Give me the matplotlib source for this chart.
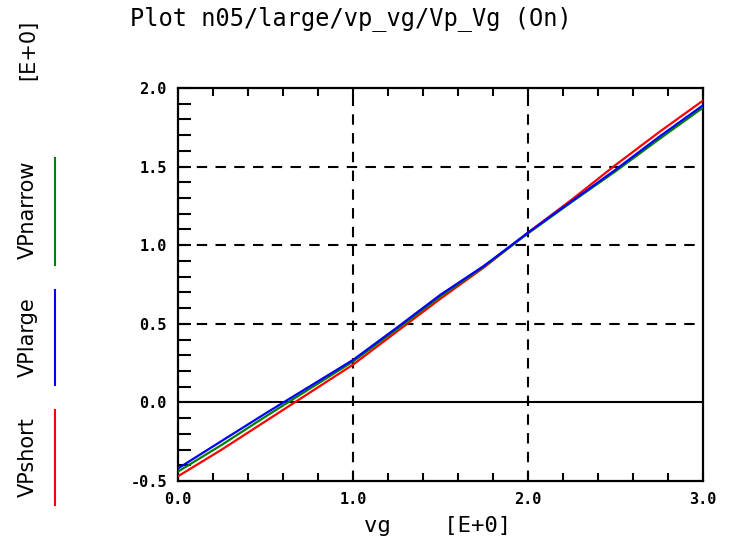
import matplotlib
matplotlib.use("Agg")
import matplotlib.pyplot as plt
from matplotlib.lines import Line2D
from matplotlib.ticker import MultipleLocator

# ---- data ----
vg = [0.0, 0.25, 0.5, 0.75, 1.0, 1.25, 1.5, 1.75, 2.0, 2.25, 2.5, 2.75, 3.0]
vp_short = [-0.47, -0.30, -0.12, 0.06, 0.24, 0.45, 0.66, 0.86, 1.08, 1.29, 1.51, 1.72, 1.92]
vp_narrow = [-0.44, -0.27, -0.09, 0.085, 0.26, 0.465, 0.675, 0.865, 1.075, 1.275, 1.47, 1.675, 1.875]
vp_large = [-0.42, -0.245, -0.07, 0.10, 0.27, 0.475, 0.685, 0.87, 1.08, 1.28, 1.48, 1.69, 1.89]

series_names = ["VPshort", "VPlarge", "VPnarrow"]
series_colors = ["#ff0000", "#0000ff", "#008000"]

x_ticks = [0.0, 1.0, 2.0, 3.0]
x_tick_labels = ["0.0", "1.0", "2.0", "3.0"]
y_ticks = [-0.5, 0.0, 0.5, 1.0, 1.5, 2.0]
y_tick_labels = ["-0.5", "0.0", "0.5", "1.0", "1.5", "2.0"]

title = "Plot n05/large/vp_vg/Vp_Vg (On)"
x_label = "vg    [E+0]"
y_unit = "[E+0]"

W, H = 744, 545
fig = plt.figure(figsize=(W / 100, H / 100), dpi=100)
ax = fig.add_axes([178 / W, 1 - 481 / H, 525 / W, 393 / H])

ax.plot(vg, vp_short, color=series_colors[0], lw=1.6, zorder=3)
ax.plot(vg, vp_narrow, color=series_colors[2], lw=1.6, zorder=4)
ax.plot(vg, vp_large, color=series_colors[1], lw=1.6, zorder=5)

ax.set_xlim(0, 3)
ax.set_ylim(-0.5, 2.0)

# grid
for xv in [1.0, 2.0]:
    ax.axvline(xv, color="black", lw=1.5, ls=(0, (5, 4)), zorder=1)
for yv in [0.5, 1.0, 1.5]:
    ax.axhline(yv, color="black", lw=1.5, ls=(0, (5, 4)), zorder=1)
ax.axhline(0.0, color="black", lw=1.5, zorder=1)

for sp in ax.spines.values():
    sp.set_linewidth(1.6)

mono = "DejaVu Sans Mono"
ax.set_xticks(x_ticks)
ax.set_xticklabels(x_tick_labels, family=mono, fontsize=11, fontweight="bold")
ax.set_yticks(y_ticks)
ax.set_yticklabels(y_tick_labels, family=mono, fontsize=11, fontweight="bold")
ax.xaxis.set_minor_locator(MultipleLocator(0.2))
ax.yaxis.set_minor_locator(MultipleLocator(0.1))
ax.tick_params(axis="x", which="both", direction="in", top=True, bottom=True,
               length=6, width=1.5, pad=8)
ax.tick_params(axis="y", which="both", direction="in", left=True, right=False,
               length=9, width=1.5, pad=8)

# title and labels
fig.text(130 / W, 1 - 19 / H, title, family=mono, fontsize=17, va="center", ha="left")
fig.text(438 / W, 1 - 526 / H, x_label, family=mono, fontsize=16, va="center", ha="center")

# rotated legend on the left
legend_pos = [457, 337, 210]
line_spans = [(410, 505), (290, 385), (158, 265)]
for name, col, yc, (y0, y1) in zip(series_names, series_colors, legend_pos, line_spans):
    fig.text(28 / W, 1 - yc / H, name, rotation=90, fontsize=15, va="center", ha="center",
             family="DejaVu Sans")
    fig.add_artist(Line2D([55 / W, 55 / W], [1 - y0 / H, 1 - y1 / H],
                          transform=fig.transFigure, color=col, lw=1.5))
fig.text(28 / W, 1 - 50 / H, y_unit, rotation=90, fontsize=15, va="center", ha="center",
         family="DejaVu Sans")

fig.savefig("out.png", dpi=100)
